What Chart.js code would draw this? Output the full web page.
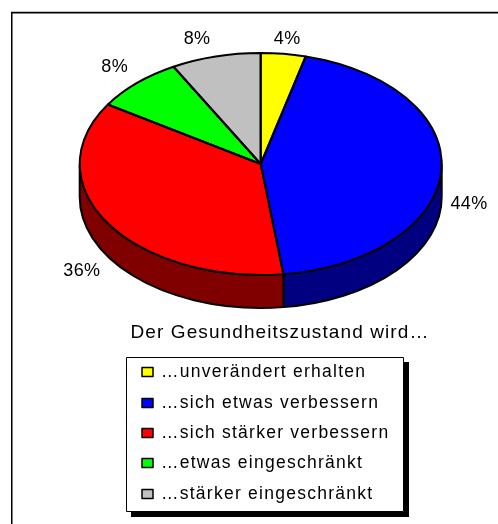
<!DOCTYPE html>
<html lang="de"><head><meta charset="utf-8"><title>Gesundheitszustand</title>
<style>html,body{margin:0;padding:0;background:#fff}canvas{display:block}</style>
<script src="https://cdn.jsdelivr.net/npm/chart.js@4/dist/chart.umd.min.js"></script>
</head><body><canvas id="c" width="498" height="524"></canvas>
<script>
const categories = ['…unverändert erhalten','…sich etwas verbessern','…sich stärker verbessern','…etwas eingeschränkt','…stärker eingeschränkt'];
const seriesValues = [4,44,36,8,8];
const topColors = ['#ffff00','#0000ff','#ff0000','#00ff00','#c0c0c0'];
const wallColors = ['#808000','#000080','#800000','#008000','#606060'];
const chartTitle = 'Der Gesundheitszustand wird…';

const FONT = '"Liberation Sans", Arial, sans-serif';
const PIE = {cx:260.7, cy:164, rx:181, ry:111, depth:33};
const LABEL_K = 1.17;
const LABEL_NUDGE = [[0,4],[-3,32],[0,37],[-1,-2],[-11,1]];
const LEGEND = {x:126, y:357, w:278, h:155, shadow:5, swatchX:142, swatchW:11, swatchH:9, textX:161, rows:[372,403,433,463,494]};

const fake3d = {
  id:'fake3d',
  beforeDraw(chart){
    const c = chart.ctx; c.save();
    c.fillStyle='#fff'; c.fillRect(0,0,chart.width,chart.height);
    c.fillStyle='#c0c0c0'; c.fillRect(11,11,chart.width-11,1);
    c.fillStyle='#000'; c.fillRect(11,12,chart.width-11,1.5); c.fillRect(11,12,1.5,chart.height-12);
    c.restore();
    c.letterSpacing='1.1px';
  },
  beforeDatasetsDraw(chart){
    const c = chart.ctx, arcs = chart.getDatasetMeta(0).data;
    c.letterSpacing='0px';
    c.save(); c.lineWidth=2; c.strokeStyle='#000'; c.lineJoin='round';
    arcs.forEach((a,i)=>{
      const s=Math.max(a.startAngle,0), e=Math.min(a.endAngle,Math.PI);
      if(e<=s) return;
      c.beginPath();
      c.ellipse(PIE.cx,PIE.cy,PIE.rx,PIE.ry,0,s,e);
      c.ellipse(PIE.cx,PIE.cy+PIE.depth,PIE.rx,PIE.ry,0,e,s,true);
      c.closePath(); c.fillStyle=wallColors[i]; c.fill(); c.stroke();
    });
    c.restore();
    const a=arcs[0];
    c.save();
    c.translate(PIE.cx,PIE.cy);
    c.scale(PIE.rx/a.outerRadius,PIE.ry/a.outerRadius);
    c.translate(-a.x,-a.y);
  },
  afterDatasetsDraw(chart){
    const c = chart.ctx, arcs = chart.getDatasetMeta(0).data;
    c.restore();
    c.save(); c.lineWidth=2; c.strokeStyle='#000'; c.lineJoin='round';
    arcs.forEach(a=>{
      c.beginPath(); c.moveTo(PIE.cx,PIE.cy);
      c.ellipse(PIE.cx,PIE.cy,PIE.rx,PIE.ry,0,a.startAngle,a.endAngle);
      c.closePath(); c.stroke();
    });
    c.fillStyle='#000'; c.font='18px '+FONT; c.textAlign='center'; c.textBaseline='middle';
    c.letterSpacing='0.4px';
    arcs.forEach((a,i)=>{
      const m=(a.startAngle+a.endAngle)/2;
      c.fillText(seriesValues[i]+'%',
        PIE.cx+PIE.rx*LABEL_K*Math.cos(m)+LABEL_NUDGE[i][0],
        PIE.cy+PIE.ry*LABEL_K*Math.sin(m)+LABEL_NUDGE[i][1]);
    });
    // legend
    const L=LEGEND;
    c.fillStyle='#000'; c.fillRect(L.x+L.shadow,L.y+L.shadow,L.w,L.h);
    c.fillStyle='#fff'; c.fillRect(L.x,L.y,L.w,L.h);
    c.lineWidth=1; c.strokeStyle='#000'; c.strokeRect(L.x+.5,L.y+.5,L.w-1,L.h-1);
    c.textAlign='left'; c.font='17.5px '+FONT; c.letterSpacing='1.25px';
    chart.data.labels.forEach((t,i)=>{
      const y=L.rows[i];
      c.fillStyle=topColors[i]; c.fillRect(L.swatchX,y-L.swatchH/2,L.swatchW,L.swatchH);
      c.lineWidth=1.5; c.strokeRect(L.swatchX,y-L.swatchH/2,L.swatchW,L.swatchH);
      c.fillStyle='#000'; c.fillText(t,L.textX,y);
    });
    c.restore();
    c.letterSpacing='0px';
  }
};

new Chart(document.getElementById('c'),{
  type:'pie',
  data:{labels:categories,datasets:[{data:seriesValues,backgroundColor:topColors,borderWidth:0,clip:false}]},
  options:{
    responsive:false,animation:false,
    layout:{padding:{left:62,top:14}},
    plugins:{
      legend:{display:false},tooltip:{enabled:false},
      title:{display:true,text:chartTitle,position:'bottom',color:'#000',
        font:{family:FONT,size:19,weight:'normal'},padding:{top:4,bottom:180}}
    }
  },
  plugins:[fake3d]
});
</script></body></html>
